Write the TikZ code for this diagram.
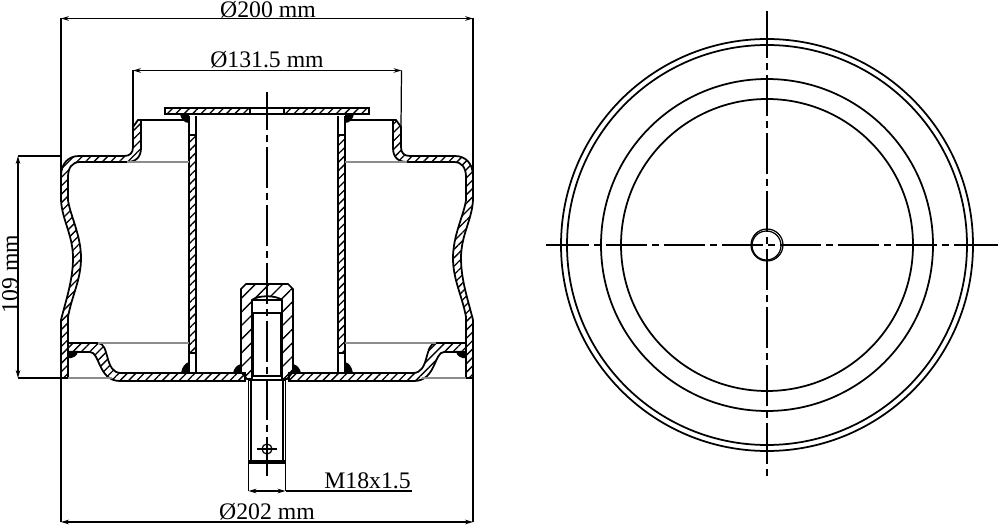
\documentclass[tikz,border=0pt]{standalone}
\usepackage{fontspec}
\setmainfont{Liberation Serif}
\usetikzlibrary{arrows.meta,patterns.meta}
\tikzset{
  outline/.style={draw=black,line width=1pt},
  thinline/.style={draw=black,line width=0.7pt},
  greyline/.style={draw=black!45,line width=0.6pt},
  hatch/.style={outline,pattern={Lines[angle=45,distance=3.4pt,line width=0.75pt]}},
  hatchwide/.style={outline,pattern={Lines[angle=45,distance=5.5pt,line width=0.75pt]}},
  weld/.style={fill=black,draw=none},
  centerline/.style={draw=black,line width=0.8pt,dash pattern=on 23.4pt off 2.8pt on 4pt off 2.8pt},
  dimline/.style={draw=black,line width=0.7pt,{Stealth[length=4.5pt,width=2.6pt]}-{Stealth[length=4.5pt,width=2.6pt]}},
  dimtext/.style={font=\fontsize{13.5}{13.5}\selectfont,inner sep=0pt}
}
\begin{document}
\begin{tikzpicture}[x=0.02cm,y=-0.02cm]
  \useasboundingbox (0,0) rectangle (1000,526);
  % both halves of the section
  \foreach \sx/\ox in {1/0,-1/534}{
    \begin{scope}[shift={(\ox,0)},xscale=\sx]
      % wall
      \path[hatch] (133,127) -- (138,120) -- (141,120) -- (141,148)
        .. controls (141,157) and (136,162) .. (127,162) -- (80,162)
        .. controls (72,162) and (68,168) .. (68,177) -- (68,200)
        .. controls (70,215) and (81,235) .. (81,258)
        .. controls (81,280) and (72,295) .. (68,317) -- (68,378) -- (61,378) -- (61,320)
        .. controls (66,300) and (73,280) .. (73,258)
        .. controls (73,235) and (62,220) .. (61,200) -- (61,176)
        .. controls (61,164) and (68,156) .. (79,156) -- (124,156)
        .. controls (130,156) and (133,153) .. (133,147) -- cycle;
      % flange and bottom plate
      \path[hatch] (68,343) -- (98,343) .. controls (110,343) and (104,373) .. (121,373)
        -- (245,373) -- (245,381) -- (120,381)
        .. controls (98,381) and (100,352) .. (90,352) -- (68,352) -- cycle;
      % tube
      \path[hatch] (189,135) rectangle (196,353);
      \draw[outline] (189,116) -- (189,373);
      \draw[outline] (196,116) -- (196,373);
      % top plate
      \path[hatch] (165,108) rectangle (250,114);
      % thin lines
      \draw[thinline] (138,120) -- (186,120);
      \draw[greyline] (127,162) -- (189,162);
      \draw[greyline] (98,343) -- (189,343);
      \draw[greyline] (68,378) -- (112,378);
      % welds
      \filldraw[weld] (180,114) -- (189,114) -- (189,123) .. controls (184,123) and (181,119) .. (180,114);
      \filldraw[weld] (68,351) -- (78,351) .. controls (78,356) and (72,359) .. (68,358) -- cycle;
      \filldraw[weld] (189,373) -- (181,373) .. controls (182,367) and (185,363) .. (189,362) -- cycle;
      \filldraw[weld] (241,373) -- (233,373) .. controls (234,368) and (237,365) .. (241,364) -- cycle;
      % thread
      \draw[thinline] (251,380) -- (251,461);
      \draw[thinline] (248.5,380) -- (248.5,463);
    \end{scope}
  }
  \draw[outline] (250,108) -- (284,108);
  \draw[outline] (250,114) -- (284,114);
  % cap nut
  \path[hatchwide] (241,289) -- (246,284) -- (288,284) -- (293,289) -- (293,372) -- (287,379) -- (282,379)
    -- (282,300) .. controls (276,295) and (258,295) .. (252,300) -- (252,379) -- (247,379) -- (241,372) -- cycle;
  \draw[outline] (252,300) -- (282,300);
  \draw[outline] (252,313) -- (282,313);
  \draw[line width=1.2pt] (253,313) -- (253,376);
  \draw[line width=1.2pt] (281,313) -- (281,376);
  \draw[thinline] (252,376) -- (282,376);
  \draw[thinline] (248.5,380) -- (285.5,380);
  \draw[thinline] (248.5,461) -- (285.5,461);
  \draw[thinline] (248.5,463) -- (285.5,463);
  \draw[thinline] (257,449) -- (277,449);
  \draw[thinline] (267,449) circle (5);
  \draw[centerline,dash phase=1.7pt] (267,92) -- (267,476);
  % dimensions
  \coordinate (outerl) at (61,18.5);
  \coordinate (outerr) at (473,18.5);
  \coordinate (neckl) at (133,70.5);
  \coordinate (neckr) at (401.5,70.5);
  \coordinate (hgtt) at (18,156);
  \coordinate (hgtb) at (18,378);
  \coordinate (basel) at (61,522);
  \coordinate (baser) at (473,522);
  \coordinate (studl) at (248.5,491);
  \coordinate (studr) at (285.5,491);
  \coordinate (leader) at (412,491);
  \draw[thinline] (outerl) -- (61,200);
  \draw[thinline] (outerr) -- (473,200);
  \draw[thinline] (neckl) -- (133,127);
  \draw[thinline] (neckr) -- (401,127);
  \draw[thinline] (hgtt) -- (61,156);
  \draw[thinline] (hgtb) -- (61,378);
  \draw[thinline] (basel) -- (61,378);
  \draw[thinline] (baser) -- (473,378);
  \draw[thinline] (studl) -- (248.5,463);
  \draw[thinline] (studr) -- (285.5,463);
  \draw[thinline] (studr) -- (leader);
  \draw[dimline] (outerl) -- (outerr);
  \draw[dimline] (neckl) -- (neckr);
  \draw[dimline] (hgtt) -- (hgtb);
  \draw[dimline] (basel) -- (baser);
  \draw[dimline] (studl) -- (studr);
  \node[dimtext] (dimouter) at (268,9.5) {Ø200 mm};
  \node[dimtext] (dimneck) at (267,60) {Ø131.5 mm};
  \node[dimtext,rotate=90] (dimheight) at (10,274) {109 mm};
  \node[dimtext] (dimbase) at (267,512) {Ø202 mm};
  \node[dimtext] (dimthread) at (367.5,481) {M18x1.5};
  % top view
  \foreach \r in {206,200,166,146}{
    \draw[outline] (767,245) circle (\r);
  }
  \draw[thinline] (767,245) circle (16);
  \draw[thinline] (766.5,245.5) circle (14.5);
  \draw[centerline] (548,245) -- (998,245);
  \draw[centerline] (546,245) -- (548,245);
  \draw[centerline] (990,245) -- (998,245);
  \draw[centerline] (767,17) -- (767,478);
  \draw[centerline] (767,11) -- (767,17);
\end{tikzpicture}
\end{document}
